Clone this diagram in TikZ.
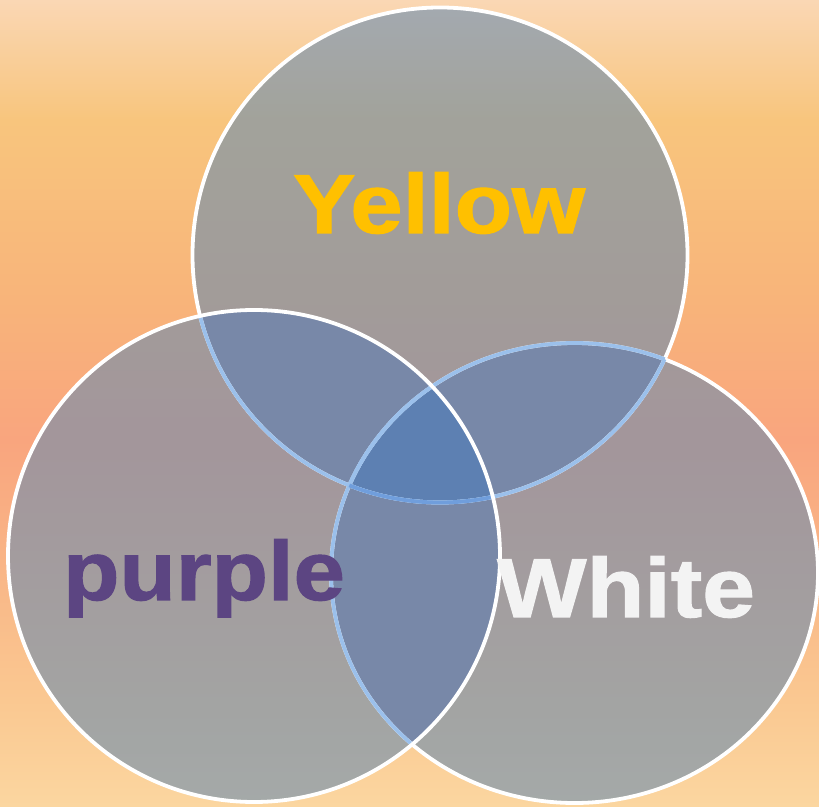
\documentclass[tikz,border=0pt]{standalone}
\usepackage{fontspec}
\newfontfamily\labfont[FakeBold=1.3]{Liberation Sans Bold}
\definecolor{bgA}{RGB}{250,215,180}
\definecolor{bgB}{RGB}{248,197,125}
\definecolor{bgC}{RGB}{248,180,122}
\definecolor{bgD}{RGB}{249,165,126}
\definecolor{bgE}{RGB}{249,182,135}
\definecolor{bgF}{RGB}{250,200,145}
\definecolor{bgG}{RGB}{251,214,160}
\definecolor{cfill}{RGB}{106,140,175}
\definecolor{pairc}{RGB}{120,136,168}
\definecolor{tripc}{RGB}{93,128,178}
\definecolor{lblue}{RGB}{155,192,235}
\definecolor{mblue}{RGB}{112,158,220}
\definecolor{yel}{RGB}{255,192,0}
\definecolor{pur}{RGB}{92,69,130}
\definecolor{wht}{RGB}{243,243,243}
\pgfdeclareverticalshading{bgshade}{100bp}{color(0bp)=(bgG); color(25bp)=(bgG); color(31.58bp)=(bgF); color(39.64bp)=(bgE); color(47.70bp)=(bgD); color(56.39bp)=(bgC); color(67.56bp)=(bgB); color(75bp)=(bgA); color(100bp)=(bgA)}
\tikzset{
  wline/.style={draw=white, line width=3.8pt},
  bline/.style={draw=lblue, line width=3.8pt},
  dline/.style={draw=mblue, line width=3.8pt},
  lab/.style={anchor=base, inner sep=0pt},
}
\def\cT{(440,551) circle[radius=247.5]}
\def\cL{(254,250) circle[radius=246]}
\def\cR{(574.5,233) ellipse[x radius=243.5, y radius=230]}
\begin{document}
\begin{tikzpicture}[x=1pt,y=1pt]
\useasboundingbox (0,0) rectangle (819,806);
% background
\shade[shading=bgshade] (0,0) rectangle (819,806);
% circle fills
\fill[cfill, opacity=0.6] \cT;
\fill[cfill, opacity=0.6] \cL;
\fill[cfill, opacity=0.6] \cR;
% pair overlaps
\begin{scope}
  \clip \cT;
  \fill[pairc] \cL;
  \fill[pairc] \cR;
\end{scope}
\begin{scope}
  \clip \cL;
  \fill[pairc] \cR;
\end{scope}
% triple overlap
\begin{scope}
  \clip \cT; \clip \cL;
  \fill[tripc] \cR;
\end{scope}
% outlines
\draw[wline] \cT;
\draw[wline] \cR;
\begin{scope}
  \clip \cL;
  \draw[bline] \cT;
  \draw[bline] \cR;
\end{scope}
\begin{scope}
  \clip \cR;
  \draw[bline] \cT;
\end{scope}
\begin{scope}
  \clip \cT;
  \draw[bline] \cR;
\end{scope}
\begin{scope}
  \clip \cL; \clip \cR;
  \draw[dline] \cT;
\end{scope}
\draw[wline] \cL;
% labels
\node[lab, text=yel] (yellow) at (439,573) {\labfont\fontsize{83.8}{90}\selectfont\scalebox{1.12}[1]{Yellow}};
\node[lab, text=pur] (purple) at (204,206) {\labfont\fontsize{83.8}{90}\selectfont\scalebox{1.10}[1]{purple}};
\node[lab, text=wht] (white) at (626,189) {\labfont\fontsize{83.8}{90}\selectfont\scalebox{1.13}[1]{White}};
\end{tikzpicture}
\end{document}
